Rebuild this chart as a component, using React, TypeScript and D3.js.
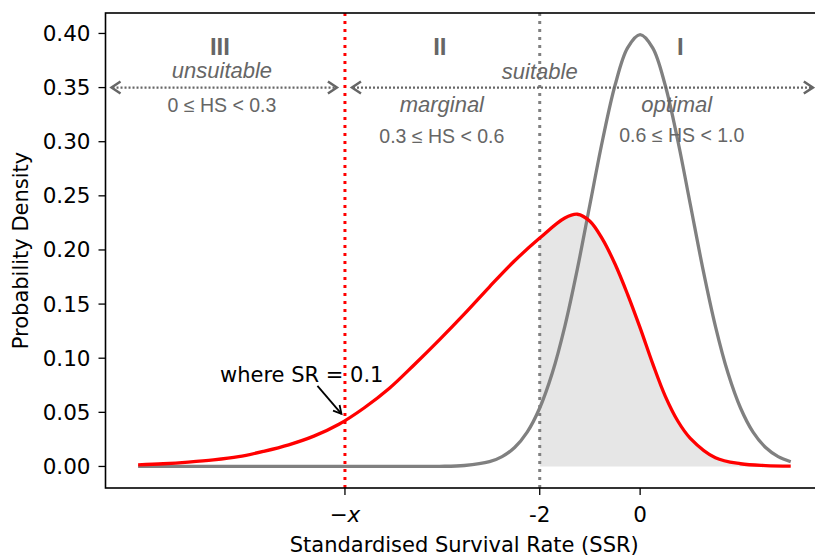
import * as d3 from "d3";

// values
const grayX = [-10, -8, -6, -5, -4.5, -4, -3.5, -3, -2.75, -2.5, -2.25, -2, -1.75, -1.5, -1.25, -1, -0.75, -0.5, -0.25, 0, 0.25, 0.5, 0.75, 1, 1.25, 1.5, 1.75, 2, 2.25, 2.5, 2.75, 3];
const grayY = [0, 0, 0, 0, 0, 0.0001, 0.0009, 0.0044, 0.0091, 0.0175, 0.0317, 0.054, 0.0863, 0.1295, 0.1826, 0.242, 0.3011, 0.3521, 0.3867, 0.3989, 0.3867, 0.3521, 0.3011, 0.242, 0.1826, 0.1295, 0.0863, 0.054, 0.0317, 0.0175, 0.0091, 0.0044];

const redX = [-10, -9.5, -9, -8.5, -8, -7.5, -7, -6.5, -6, -5.5, -5, -4.5, -4, -3.5, -3, -2.5, -2, -1.5, -1.25, -1, -0.75, -0.5, -0.25, 0, 0.25, 0.5, 0.75, 1, 1.5, 2, 2.5, 3];
const redY = [0.0015, 0.0025, 0.004, 0.006, 0.009, 0.014, 0.02, 0.028, 0.039, 0.054, 0.072, 0.094, 0.117, 0.141, 0.166, 0.19, 0.211, 0.2295, 0.233, 0.2265, 0.21, 0.187, 0.159, 0.128, 0.095, 0.065, 0.042, 0.026, 0.008, 0.0025, 0.0008, 0.0003];

const threshold = -5.88; // the "-x" position
const yTicks = [0, 0.05, 0.1, 0.15, 0.2, 0.25, 0.3, 0.35, 0.4];
const xTicks = [threshold, -2, 0];

const W = 815;
const H = 556;
const left = 105.5;
const top = 13;
const bottom = 488;

const x = d3.scaleLinear().domain([-10.65, 3.65]).range([left, left + 14.3 * 50.2]);
const y = d3.scaleLinear().domain([-0.0199, 0.4189]).range([bottom, top]);

const annoColor = "#666666";
const helv = "'Liberation Sans', Arial, sans-serif";
const dejavu = "'DejaVu Sans', sans-serif";

function Head({ tx, ty, dir, color, len = 9, half = 6, w = 2.5 }) {
  // open chevron, dir = +1 points right, -1 points left
  return (
    <polyline
      points={`${tx - dir * len},${ty - half} ${tx},${ty} ${tx - dir * len},${ty + half}`}
      fill="none"
      stroke={color}
      strokeWidth={w}
      strokeLinejoin="miter"
    />
  );
}

function DoubleArrow({ x0, x1, yv }) {
  const py = y(yv);
  const a = x(x0);
  const b = x(x1);
  return (
    <g>
      <line x1={a + 1} x2={b - 1} y1={py} y2={py} stroke={annoColor} strokeWidth={2.2} strokeDasharray="2,2" />
      <Head tx={a} ty={py} dir={-1} color={annoColor} />
      <Head tx={b} ty={py} dir={1} color={annoColor} />
    </g>
  );
}

export default function App() {
  const gray = grayX.map((v, i) => [v, grayY[i]]);
  const red = redX.map((v, i) => [v, redY[i]]);
  const shade = red.filter((d) => d[0] >= -2);

  const line = d3
    .line()
    .x((d) => x(d[0]))
    .y((d) => y(d[1]))
    .curve(d3.curveCatmullRom.alpha(0.5));
  const area = d3
    .area()
    .x((d) => x(d[0]))
    .y0(y(0))
    .y1((d) => y(d[1]))
    .curve(d3.curveCatmullRom.alpha(0.5));

  const right = x.range()[1];

  // arrow for "where SR = 0.1"
  const ax1 = x(threshold) - 3.5;
  const ay1 = y(0.044) - 5;
  const ax0 = ax1 - 24;
  const ay0 = ay1 - 28;
  const ang = Math.atan2(ay1 - ay0, ax1 - ax0);

  return (
    <svg width={W} height={H} style={{ position: "absolute", left: 0, top: 0, background: "#fff" }}>
      <defs>
        <clipPath id="plotClip">
          <rect x={left} y={top} width={right - left} height={bottom - top} />
        </clipPath>
      </defs>

      <g clipPath="url(#plotClip)">
        <path d={area(shade)} fill="#e6e6e6" />
        <line x1={x(-2)} x2={x(-2)} y1={top} y2={bottom} stroke="#808080" strokeWidth={3} strokeDasharray="3,5" />
        <path d={line(gray)} fill="none" stroke="#808080" strokeWidth={3.3} />
        <path d={line(red)} fill="none" stroke="#ff0000" strokeWidth={3.3} />
        <line x1={x(threshold)} x2={x(threshold)} y1={top} y2={bottom} stroke="#ff0000" strokeWidth={3} strokeDasharray="3,5" />

        {/* zone arrows */}
        <DoubleArrow x0={-10.53} x1={-6.04} yv={0.35} />
        <DoubleArrow x0={-5.74} x1={3.44} yv={0.35} />

        {/* zone numerals */}
        <g fill={annoColor} fontFamily={helv} fontWeight="bold" fontSize={24} textAnchor="middle">
          <text x={x(-8.37)} y={55}>III</text>
          <text x={x(-3.99)} y={55}>II</text>
          <text x={x(0.8)} y={55}>I</text>
        </g>
        <g fill={annoColor} fontFamily={helv} fontStyle="italic" fontSize={22} textAnchor="middle">
          <text x={x(-8.33)} y={78}>unsuitable</text>
          <text x={x(-2)} y={79}>suitable</text>
          <text x={x(-3.95)} y={112}>marginal</text>
          <text x={x(0.73)} y={112}>optimal</text>
        </g>
        <g fill={annoColor} fontFamily={helv} fontSize={19.5} textAnchor="middle">
          <text x={x(-8.33)} y={111.5}>0 ≤ HS &lt; 0.3</text>
          <text x={x(-3.95)} y={143}>0.3 ≤ HS &lt; 0.6</text>
          <text x={x(0.83)} y={142}>0.6 ≤ HS &lt; 1.0</text>
        </g>
      </g>

      {/* annotation */}
      <text x={220} y={382} fontFamily={dejavu} fontSize={21} fill="#000">
        where SR = 0.1
      </text>
      <line x1={ax0} y1={ay0} x2={ax1} y2={ay1} stroke="#000" strokeWidth={1.8} />
      <polyline
        points={`${ax1 - 9 * Math.cos(ang - 0.5)},${ay1 - 9 * Math.sin(ang - 0.5)} ${ax1},${ay1} ${ax1 - 9 * Math.cos(ang + 0.5)},${ay1 - 9 * Math.sin(ang + 0.5)}`}
        fill="none"
        stroke="#000"
        strokeWidth={1.8}
      />

      {/* axes frame */}
      <rect x={left} y={top} width={right - left} height={bottom - top} fill="none" stroke="#000" strokeWidth={1.6} />

      {/* y axis */}
      {yTicks.map((t) => (
        <g key={t}>
          <line x1={left - 7} x2={left} y1={y(t)} y2={y(t)} stroke="#000" strokeWidth={1.3} />
          <text x={left - 15} y={y(t) + 7.5} textAnchor="end" fontFamily={dejavu} fontSize={21.5} fill="#000">
            {d3.format(".2f")(t)}
          </text>
        </g>
      ))}

      {/* x axis */}
      {xTicks.map((t, i) => (
        <g key={i}>
          <line x1={x(t)} x2={x(t)} y1={bottom} y2={bottom + 7} stroke="#000" strokeWidth={1.3} />
          <text x={x(t)} y={bottom + 34} textAnchor="middle" fontFamily={dejavu} fontSize={21.5} fill="#000">
            {i === 0 ? (
              <>
                <tspan>−</tspan>
                <tspan fontStyle="italic">x</tspan>
              </>
            ) : (
              String(t)
            )}
          </text>
        </g>
      ))}

      <text x={(left + 815) / 2 + 4} y={552} textAnchor="middle" fontFamily={dejavu} fontSize={21} fill="#000">
        Standardised Survival Rate (SSR)
      </text>
      <text
        transform={`translate(28,${(top + bottom) / 2}) rotate(-90)`}
        textAnchor="middle"
        fontFamily={dejavu}
        fontSize={21}
        fill="#000"
      >
        Probability Density
      </text>
    </svg>
  );
}
